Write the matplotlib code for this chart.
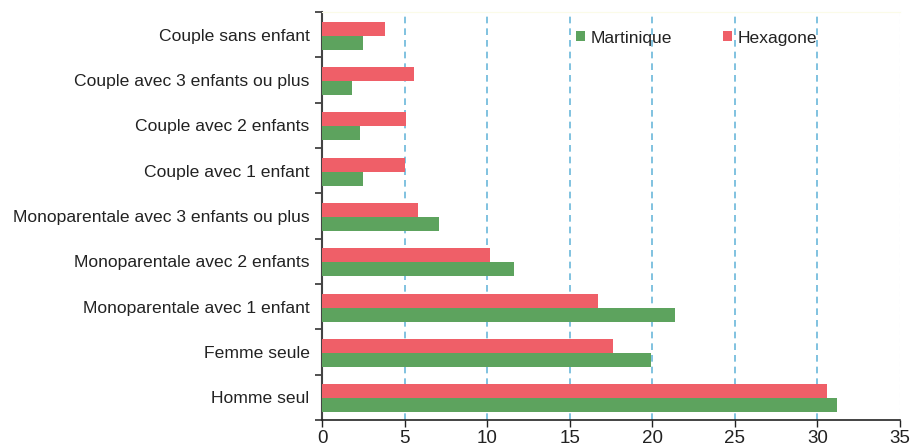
import numpy as np
import matplotlib.pyplot as plt
from matplotlib import font_manager

# categories from bottom to top
categories = ['Homme seul', 'Femme seule', 'Monoparentale avec 1 enfant',
              'Monoparentale avec 2 enfants', 'Monoparentale avec 3 enfants ou plus',
              'Couple avec 1 enfant', 'Couple avec 2 enfants',
              'Couple avec 3 enfants ou plus', 'Couple sans enfant']
martinique = [31.2, 19.9, 21.4, 11.6, 7.1, 2.5, 2.3, 1.8, 2.5]
hexagone = [30.6, 17.6, 16.7, 10.2, 5.8, 5.0, 5.1, 5.6, 3.8]
xticks = [0, 5, 10, 15, 20, 25, 30, 35]

names = {f.name for f in font_manager.fontManager.ttflist}
fam = 'Liberation Sans Narrow' if 'Liberation Sans Narrow' in names else 'Liberation Sans'
plt.rcParams['font.family'] = [fam, 'DejaVu Sans']
fs = 12.6

vert = '#5da35e'
rouge = '#ef5f68'
bleu = '#6bb8da'

fig = plt.figure(figsize=(9.11, 4.46), dpi=100)
ax = fig.add_axes([322 / 911, 26 / 446, 578 / 911, 408 / 446])

y = np.arange(len(categories))
h = 0.31
ax.barh(y - h / 2 - 0.02, martinique, height=h, color=vert, label='Martinique', zorder=3)
ax.barh(y + h / 2 - 0.02, hexagone, height=h, color=rouge, label='Hexagone', zorder=3)

ax.set_xlim(0, 35)
ax.set_ylim(-0.5, len(categories) - 0.5)
ax.set_xticks(xticks)
ax.set_xticklabels([str(v) for v in xticks], fontsize=13.5, color='#222222')
ax.set_yticks(y)
ax.set_yticklabels(categories, fontsize=fs, color='#222222')
ax.tick_params(axis='y', which='major', length=0, pad=9)
ax.set_yticks(np.arange(len(categories) + 1) - 0.5, minor=True)
ax.tick_params(axis='y', which='minor', length=5, width=1.2, color='#333333')
ax.tick_params(axis='x', which='major', length=5, width=1, color='#222222', pad=2)

for v in xticks[1:-1]:
    ax.axvline(v, color=bleu, linestyle=(0, (4, 3)), linewidth=1.2, zorder=1)
ax.axvline(35, color='#dde8ee', linestyle=(0, (4, 3)), linewidth=0.8, zorder=1)

ax.spines['top'].set_color('#fbfbe8')
ax.spines['right'].set_visible(False)
ax.spines['left'].set_color('#444444')
ax.spines['left'].set_linewidth(1.5)
ax.spines['bottom'].set_color('#222222')
ax.spines['bottom'].set_linewidth(1.2)

leg = fig.legend(loc='center left', bbox_to_anchor=(576 / 911, 1 - 38 / 446), ncol=2,
                 frameon=False, fontsize=fs, handlelength=0.5, handleheight=0.5,
                 handletextpad=0.35, columnspacing=2.9, borderpad=0, borderaxespad=0)
for t in leg.get_texts():
    t.set_color('#222222')

fig.savefig('out.png', dpi=100)
